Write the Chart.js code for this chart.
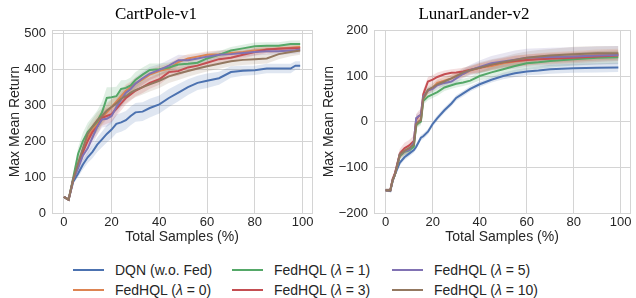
<!DOCTYPE html>
<html>
<head>
<meta charset="utf-8">
<script src="https://cdn.jsdelivr.net/npm/chart.js@4.4.1/dist/chart.umd.min.js"></script>
<style>
  html, body { margin: 0; padding: 0; background: #fff; }
  body { width: 636px; height: 298px; position: relative; overflow: hidden; }
  canvas { position: absolute; top: 0; }
  #cart { left: 0; }
  #lunar { left: 318px; }
  .legend { position: absolute; font: 14px "Liberation Sans", Arial, sans-serif; color: #262626; }
  .legend .item { position: absolute; white-space: nowrap; height: 18px; line-height: 18px; }
  .legend .swatch { position: absolute; top: 8px; width: 31px; height: 2px; }
  .legend .label { position: absolute; left: 42px; top: 0; }
</style>
</head>
<body>
<canvas id="cart" width="318" height="250"></canvas>
<canvas id="lunar" width="318" height="250"></canvas>
<div class="legend" id="legend"></div>
<script>
// ---- data ----
const seriesNames = ['DQN (w.o. Fed)', 'FedHQL (λ = 0)', 'FedHQL (λ = 1)', 'FedHQL (λ = 3)', 'FedHQL (λ = 5)', 'FedHQL (λ = 10)'];
const xTicks = [0, 20, 40, 60, 80, 100];

// CartPole-v1
const cartX     = [0, 2, 4, 6, 8, 10, 12, 14, 16, 18, 20, 22, 24, 26, 28, 30, 33, 36, 40, 44, 48, 52, 56, 60, 65, 70, 75, 80, 85, 90, 95, 97, 99];
const cartDqn   = [45, 37, 88, 110, 135, 155, 170, 190, 205, 220, 232, 248, 252, 258, 270, 280, 282, 292, 302, 320, 335, 350, 362, 368, 375, 392, 396, 397, 402, 402, 402, 410, 410];
const cartLam0  = [45, 37, 95, 135, 170, 210, 230, 250, 265, 280, 295, 310, 325, 340, 350, 360, 372, 385, 395, 402, 420, 430, 435, 440, 442, 445, 448, 452, 455, 458, 460, 461, 462];
const cartLam1  = [45, 37, 100, 165, 200, 225, 240, 255, 280, 320, 322, 325, 345, 348, 355, 370, 385, 398, 400, 405, 413, 415, 418, 430, 440, 452, 458, 464, 465, 465, 470, 470, 470];
const cartLam3  = [45, 37, 95, 130, 170, 200, 225, 240, 265, 270, 275, 290, 305, 320, 330, 340, 350, 362, 372, 392, 395, 405, 410, 418, 428, 432, 440, 448, 455, 457, 458, 458, 458];
const cartLam5  = [45, 37, 95, 125, 160, 180, 210, 240, 260, 262, 270, 295, 315, 335, 345, 360, 375, 388, 398, 410, 425, 425, 430, 435, 440, 442, 445, 448, 450, 450, 452, 453, 455];
const cartLam10 = [45, 37, 95, 140, 180, 220, 240, 258, 270, 285, 295, 305, 318, 325, 335, 342, 350, 358, 368, 380, 388, 395, 402, 408, 415, 422, 426, 428, 430, 442, 448, 450, 452];
// half-width of the shaded bands
const cartDqnSd   = [3, 3, 6, 10, 14, 16, 18, 20, 22, 24, 25, 26, 26, 26, 26, 26, 26, 26, 25, 25, 24, 22, 20, 20, 18, 16, 14, 13, 13, 13, 13, 12, 12];
const cartLam0Sd  = [3, 3, 8, 14, 18, 20, 20, 20, 20, 20, 20, 18, 18, 18, 16, 16, 15, 15, 14, 14, 12, 12, 10, 10, 10, 10, 10, 10, 10, 10, 10, 10, 10];
const cartLam1Sd  = [3, 3, 10, 18, 24, 26, 28, 30, 30, 30, 28, 26, 24, 22, 22, 22, 20, 18, 16, 14, 13, 12, 12, 12, 10, 10, 10, 10, 10, 10, 10, 10, 10];
const cartLam3Sd  = [3, 3, 8, 14, 18, 20, 22, 22, 22, 22, 22, 20, 20, 18, 18, 16, 16, 16, 15, 14, 13, 12, 12, 12, 10, 10, 10, 10, 10, 10, 10, 10, 10];
const cartLam5Sd  = [3, 3, 8, 14, 18, 20, 22, 22, 22, 22, 22, 22, 20, 20, 18, 18, 18, 18, 16, 16, 15, 14, 13, 12, 12, 12, 10, 10, 10, 10, 10, 10, 10];
const cartLam10Sd = [3, 3, 8, 14, 18, 20, 22, 22, 22, 22, 22, 22, 22, 20, 20, 20, 20, 20, 20, 18, 18, 16, 15, 14, 14, 14, 14, 14, 14, 14, 12, 12, 12];
const cartYTicks = [0, 100, 200, 300, 400, 500];

// LunarLander-v2
const lunarX     = [0, 2, 3, 4, 6, 8, 10, 12, 13, 14, 15, 16, 18, 20, 22, 25, 28, 30, 33, 36, 40, 45, 50, 55, 60, 65, 70, 80, 90, 99];
const lunarDqn   = [-150, -152, -130, -115, -90, -78, -70, -62, -55, -45, -35, -32, -22, -5, 8, 25, 40, 52, 62, 72, 82, 92, 100, 106, 110, 112, 115, 117, 118, 119];
const lunarLam0  = [-150, -150, -128, -115, -75, -65, -60, -50, -5, 0, 5, 50, 68, 75, 85, 90, 95, 100, 105, 112, 118, 122, 128, 132, 135, 138, 140, 143, 146, 148];
const lunarLam1  = [-150, -150, -128, -115, -75, -66, -63, -55, -8, -3, 0, 45, 55, 60, 65, 75, 80, 83, 86, 90, 100, 108, 115, 122, 128, 130, 133, 137, 140, 141];
const lunarLam3  = [-150, -150, -125, -112, -70, -58, -52, -42, 5, 12, 15, 60, 88, 92, 98, 104, 107, 108, 110, 114, 118, 125, 130, 133, 135, 137, 138, 140, 143, 145];
const lunarLam5  = [-150, -150, -128, -115, -72, -65, -62, -45, 8, 12, 15, 55, 68, 72, 80, 85, 88, 95, 105, 113, 120, 128, 132, 136, 140, 141, 142, 143, 145, 146];
const lunarLam10 = [-150, -150, -128, -115, -72, -64, -58, -50, -5, 0, 3, 50, 70, 75, 82, 88, 95, 100, 108, 113, 118, 125, 130, 135, 140, 143, 145, 148, 150, 150];
const lunarDqnSd   = [3, 3, 6, 6, 6, 6, 6, 6, 6, 6, 6, 6, 6, 6, 6, 6, 6, 6, 6, 6, 6, 6, 7, 8, 8, 9, 10, 10, 10, 10];
const lunarLam0Sd  = [3, 3, 5, 6, 8, 8, 8, 8, 8, 8, 8, 8, 8, 8, 8, 8, 8, 8, 8, 8, 10, 10, 10, 12, 12, 12, 12, 12, 12, 12];
const lunarLam1Sd  = [3, 3, 5, 6, 8, 8, 8, 8, 8, 8, 8, 8, 8, 8, 8, 8, 8, 8, 8, 8, 10, 12, 12, 14, 14, 14, 14, 14, 14, 14];
const lunarLam3Sd  = [3, 3, 5, 6, 10, 12, 12, 12, 12, 12, 12, 10, 10, 10, 10, 8, 8, 8, 8, 8, 10, 10, 10, 12, 12, 12, 12, 12, 12, 12];
const lunarLam5Sd  = [3, 3, 5, 6, 8, 8, 8, 8, 8, 8, 8, 8, 8, 8, 8, 8, 10, 10, 10, 12, 14, 16, 18, 20, 20, 20, 20, 20, 20, 20];
const lunarLam10Sd = [3, 3, 5, 6, 8, 8, 8, 8, 8, 8, 8, 8, 8, 8, 8, 8, 8, 8, 10, 10, 12, 12, 12, 14, 14, 14, 14, 16, 16, 16];
const lunarYTicks = [-200, -100, 0, 100, 200];

const colors = ['#4C72B0', '#DD8452', '#55A868', '#C44E52', '#8172B3', '#937860'];

const SANS = '"Liberation Sans", Arial, sans-serif';
const SERIF = '"Liberation Serif", "Times New Roman", serif';
const TEXT = '#262626';
const GRID = '#d4d4d4';

function rgba(hex, a) {
    const n = parseInt(hex.slice(1), 16);
    return `rgba(${(n >> 16) & 255}, ${(n >> 8) & 255}, ${n & 255}, ${a})`;
}

// box around the plot area, like matplotlib spines
const framePlugin = {
    id: 'frame',
    beforeDatasetsDraw(chart) {
        const { ctx, chartArea: a } = chart;
        ctx.save();
        ctx.strokeStyle = GRID;
        ctx.lineWidth = 1;
        ctx.strokeRect(Math.round(a.left) + 0.5, Math.round(a.top) + 0.5,
                       Math.round(a.right - a.left), Math.round(a.bottom - a.top));
        ctx.restore();
    }
};

function buildDatasets(xs, lines, spreads) {
    const sets = [];
    // lines first (lowest order on top; last series drawn above the others)
    lines.forEach((ys, i) => {
        sets.push({
            data: ys.map((y, k) => ({ x: xs[k], y })),
            borderColor: colors[i],
            borderWidth: 2,
            pointRadius: 0,
            fill: false,
            order: lines.length - i,
        });
    });
    // shaded bands: upper fills down to the lower one right after it
    lines.forEach((ys, i) => {
        sets.push({
            data: ys.map((y, k) => ({ x: xs[k], y: y + spreads[i][k] })),
            borderWidth: 0,
            pointRadius: 0,
            backgroundColor: rgba(colors[i], 0.18),
            fill: '+1',
            order: 20 + i,
        });
        sets.push({
            data: ys.map((y, k) => ({ x: xs[k], y: y - spreads[i][k] })),
            borderWidth: 0,
            pointRadius: 0,
            fill: false,
            order: 20 + i,
        });
    });
    return sets;
}

function makeChart(id, title, xs, lines, spreads, yMin, yMax, yTicks, yAxisWidth, yTitlePad) {
    return new Chart(document.getElementById(id), {
        type: 'line',
        data: { datasets: buildDatasets(xs, lines, spreads) },
        plugins: [framePlugin],
        options: {
            responsive: false,
            animation: false,
            devicePixelRatio: 1,
            layout: { padding: { left: 0, right: 6, top: 0, bottom: 0 } },
            plugins: {
                legend: { display: false },
                tooltip: { enabled: false },
                title: {
                    display: true,
                    text: title,
                    color: '#000',
                    font: { family: SERIF, size: 17, weight: 'normal' },
                    padding: { top: 4, bottom: 6 },
                },
            },
            scales: {
                x: {
                    type: 'linear',
                    min: -4.95,
                    max: 103.95,
                    afterBuildTicks: s => { s.ticks = xTicks.map(v => ({ value: v })); },
                    afterFit: s => { s.height = 37; },
                    grid: { color: GRID, lineWidth: 1, drawTicks: false },
                    border: { display: false },
                    ticks: { color: TEXT, font: { family: SANS, size: 13 }, padding: 2, maxRotation: 0 },
                    title: {
                        display: true,
                        text: 'Total Samples (%)',
                        color: TEXT,
                        font: { family: SANS, size: 14 },
                        padding: { top: 0, bottom: 4 },
                    },
                },
                y: {
                    type: 'linear',
                    min: yMin,
                    max: yMax,
                    afterBuildTicks: s => { s.ticks = yTicks.map(v => ({ value: v })); },
                    afterFit: s => { s.width = yAxisWidth; },
                    grid: { color: GRID, lineWidth: 1, drawTicks: false },
                    border: { display: false },
                    ticks: {
                        color: TEXT,
                        font: { family: SANS, size: 13 },
                        padding: 6,
                        callback: v => (v < 0 ? '\u2212' + Math.abs(v) : String(v)),
                    },
                    title: {
                        display: true,
                        text: 'Max Mean Return',
                        color: TEXT,
                        font: { family: SANS, size: 14 },
                        padding: { top: yTitlePad, bottom: 0 },
                    },
                },
            },
        },
    });
}

makeChart('cart', 'CartPole-v1', cartX,
    [cartDqn, cartLam0, cartLam1, cartLam3, cartLam5, cartLam10],
    [cartDqnSd, cartLam0Sd, cartLam1Sd, cartLam3Sd, cartLam5Sd, cartLam10Sd],
    0, 508, cartYTicks, 52, 7);

makeChart('lunar', 'LunarLander-v2', lunarX,
    [lunarDqn, lunarLam0, lunarLam1, lunarLam3, lunarLam5, lunarLam10],
    [lunarDqnSd, lunarLam0Sd, lunarLam1Sd, lunarLam3Sd, lunarLam5Sd, lunarLam10Sd],
    -200, 200, lunarYTicks, 56, 3);

// legend: 2 rows x 3 columns, filled column by column
const legend = document.getElementById('legend');
const colLeft = [73, 232, 392];
const rowTop = [261, 281];
seriesNames.forEach((name, i) => {
    const item = document.createElement('div');
    item.className = 'item';
    item.style.left = colLeft[Math.floor(i / 2)] + 'px';
    item.style.top = rowTop[i % 2] + 'px';
    const sw = document.createElement('div');
    sw.className = 'swatch';
    sw.style.background = colors[i];
    const lab = document.createElement('span');
    lab.className = 'label';
    lab.innerHTML = name.replace('λ', '<i>λ</i>');
    item.appendChild(sw);
    item.appendChild(lab);
    legend.appendChild(item);
});
</script>
</body>
</html>
